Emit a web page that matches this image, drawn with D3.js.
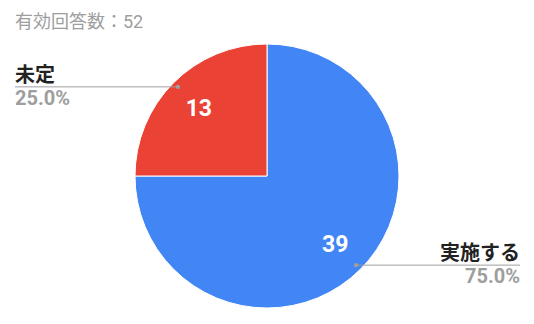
<!DOCTYPE html>
<html lang="ja">
<head>
<meta charset="UTF-8">
<title>有効回答数</title>
<script src="https://d3js.org/d3.v7.min.js"></script>
<style>
  body { margin: 0; background: #fff; }
  text { font-family: Roboto, "Noto Sans CJK JP", sans-serif; }
</style>
</head>
<body>
<script>
// chart data
const labels = ["実施する", "未定"];
const values = [39, 13];
const colors = ["#4285f4", "#ea4335"];

const width = 534, height = 324;
const cx = 267, cy = 176, radius = 132;

const svg = d3.select("body").append("svg")
  .attr("width", width)
  .attr("height", height);

const total = d3.sum(values);

// title
svg.append("text")
  .attr("x", 15)
  .attr("y", 28)
  .attr("fill", "#9e9e9e")
  .style("font-size", "18px")
  .text("有効回答数：" + total);

const pie = d3.pie().sort(null).value(d => d);
const arcs = pie(values);

const arc = d3.arc().innerRadius(0).outerRadius(radius);
const valueArc = d3.arc().innerRadius(radius * 0.73).outerRadius(radius * 0.73);
const dotArc = d3.arc().innerRadius(radius * 0.955).outerRadius(radius * 0.955);

const g = svg.append("g").attr("transform", `translate(${cx},${cy})`);

g.selectAll("path")
  .data(arcs)
  .join("path")
  .attr("d", arc)
  .attr("fill", (d, i) => colors[i])
  .attr("stroke", "#fff")
  .attr("stroke-width", 1);

// values inside slices
g.selectAll("text.val")
  .data(arcs)
  .join("text")
  .attr("class", "val")
  .attr("transform", d => `translate(${valueArc.centroid(d)})`)
  .attr("text-anchor", "middle")
  .attr("dy", "0.36em")
  .attr("fill", "#fff")
  .style("font-size", "23px")
  .style("font-weight", "bold")
  .text(d => d.data);

// leader lines + outside labels
const leftX = 15 - cx, rightX = 520 - cx;
arcs.forEach((d, i) => {
  const [px, py] = dotArc.centroid(d);
  const mid = (d.startAngle + d.endAngle) / 2;
  const right = mid < Math.PI;
  const ex = right ? rightX : leftX;
  const anchor = right ? "end" : "start";

  g.append("line")
    .attr("x1", px).attr("y1", py)
    .attr("x2", ex).attr("y2", py)
    .attr("stroke", "#9e9e9e")
    .attr("stroke-width", 1);

  g.append("circle")
    .attr("cx", px).attr("cy", py)
    .attr("r", 2.2)
    .attr("fill", "#9e9e9e");

  g.append("text")
    .attr("x", ex).attr("y", py - 5)
    .attr("text-anchor", anchor)
    .attr("fill", "#222")
    .style("font-size", "20px")
    .style("font-weight", "bold")
    .text(labels[i]);

  g.append("text")
    .attr("x", ex).attr("y", py + 18)
    .attr("text-anchor", anchor)
    .attr("fill", "#9e9e9e")
    .style("font-size", "20px")
    .style("font-weight", "bold")
    .text((d.data / total * 100).toFixed(1) + "%");
});
</script>
</body>
</html>
